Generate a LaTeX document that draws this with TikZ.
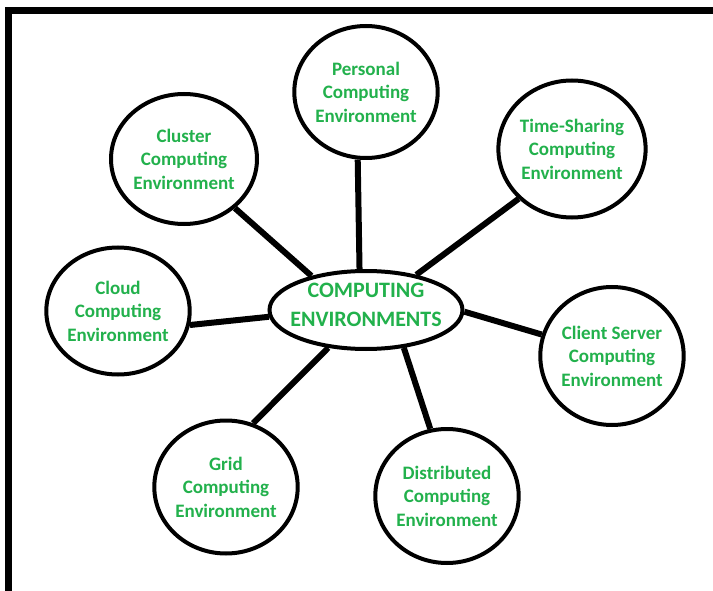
\documentclass[tikz,border=0pt]{standalone}
\usepackage{fontspec}
\setmainfont{Carlito}
\usetikzlibrary{shapes.geometric}
\definecolor{cgreen}{RGB}{34,177,76}
\tikzset{
  envnode/.style={ellipse, draw=black, line width=4pt, inner sep=0pt, align=center,
    text=cgreen, font=\bfseries\fontsize{19}{23.5}\selectfont},
  hubnode/.style={ellipse, draw=black, line width=4pt, inner sep=0pt},
  hubtext/.style={inner sep=0pt, align=center, text=cgreen, font=\bfseries\fontsize{22}{29}\selectfont},
  link/.style={draw=black, line width=6pt},
  frame/.style={draw=black, line width=7pt, line join=miter}
}
\begin{document}
\begin{tikzpicture}[x=1pt,y=-1pt]
\useasboundingbox (0,0) rectangle (713,591);
\fill[white] (0,0) rectangle (713,591);
\draw[frame] (8.5,600) -- (8.5,10.5) -- (720,10.5);

\node[hubnode, minimum width=193pt, minimum height=78pt] (ce) at (366,310) {};
\node[hubtext] (cetext) at (366,305) {COMPUTING\\ENVIRONMENTS};

\node[envnode, minimum width=138pt, minimum height=132pt] (pers) at (366,92) {Personal\\Computing\\Environment};
\node[envnode, minimum width=146pt, minimum height=130pt] (clus) at (184,159) {Cluster\\Computing\\Environment};
\node[envnode, minimum width=140pt, minimum height=137pt] (time) at (572,149) {Time-Sharing\\Computing\\Environment};
\node[envnode, minimum width=138pt, minimum height=127pt] (cloud) at (118,311) {Cloud\\Computing\\Environment};
\node[envnode, minimum width=139pt, minimum height=138pt] (client) at (612,356) {Client Server\\Computing\\Environment};
\node[envnode, minimum width=137pt, minimum height=133pt] (grid) at (226,487) {Grid\\Computing\\Environment};
\node[envnode, minimum width=142pt, minimum height=134pt] (dist) at (447,496) {Distributed\\Computing\\Environment};

\draw[link] (pers.263) -- (ce.99);
\draw[link] (clus.316) -- (ce.148);
\draw[link] (time.223) -- (ce.35);
\draw[link] (cloud.349) -- (ce.184);
\draw[link] (client.163) -- (ce.359);
\draw[link] (grid.67) -- (ce.225);
\draw[link] (dist.104) -- (ce.315);
\end{tikzpicture}
\end{document}
